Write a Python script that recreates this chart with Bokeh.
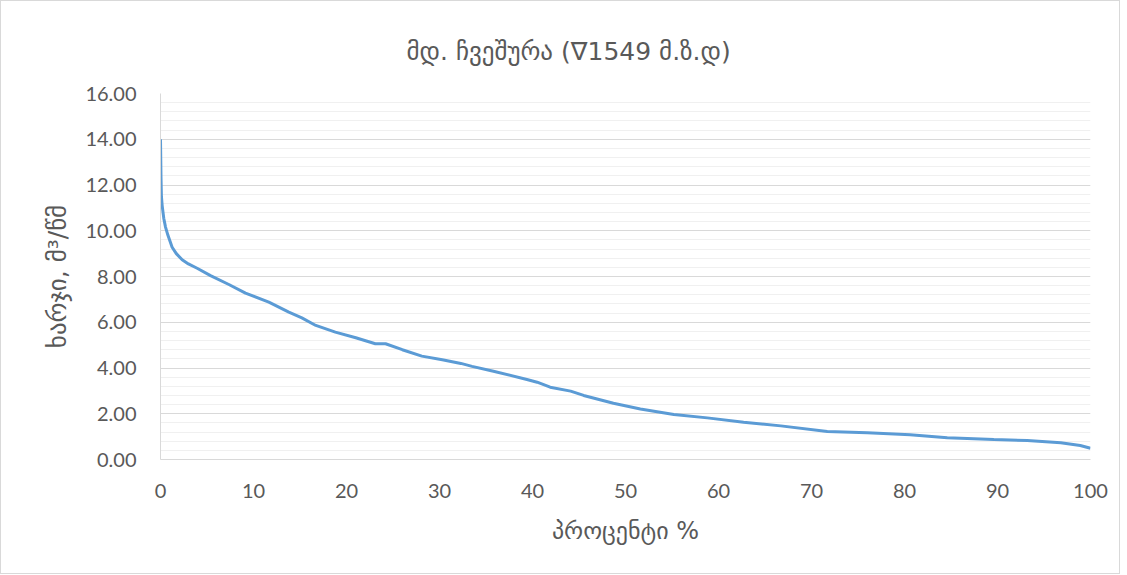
from bokeh.plotting import figure
from bokeh.models import SingleIntervalTicker, FixedTicker, NumeralTickFormatter, Range1d, Title
from bokeh.embed import file_html
from bokeh.resources import INLINE

percent = [0, 0.05, 0.1, 0.18, 0.35, 0.54, 0.8, 1.25, 1.7, 2.33, 3.0, 3.94, 5.38, 7.35, 9.14,
           11.65, 13.8, 15.2, 16.7, 18.8, 21.0, 23.1, 24.2, 26.0, 28.1, 30.3, 32.3, 33.5,
           35.8, 39.4, 40.5, 41.9, 44.1, 45.5, 48.7, 51.6, 55.2, 58.8, 62.7, 66.7, 71.7,
           76.0, 80.6, 84.6, 89.6, 93.2, 96.8, 98.9, 100]
discharge = [14.0, 12.4, 11.5, 11.1, 10.55, 10.16, 9.8, 9.28, 9.0, 8.73, 8.55, 8.36, 8.04, 7.65, 7.27,
             6.88, 6.44, 6.19, 5.86, 5.57, 5.32, 5.06, 5.06, 4.8, 4.52, 4.36, 4.2, 4.07,
             3.86, 3.5, 3.38, 3.16, 2.99, 2.8, 2.46, 2.21, 1.97, 1.82, 1.63, 1.47, 1.22,
             1.17, 1.08, 0.95, 0.87, 0.83, 0.73, 0.61, 0.49]

title_text = "მდ. ჩვეშურა (∇1549 მ.ზ.დ)"
x_label = "პროცენტი %"
y_label = "ხარჯი, მ³/წმ"
x_ticks = [0, 10, 20, 30, 40, 50, 60, 70, 80, 90, 100]

p = figure(width=1120, height=574, output_backend="svg", toolbar_location=None,
           x_range=Range1d(0, 100), y_range=Range1d(0, 16),
           min_border_left=159, min_border_right=31, min_border_top=92, min_border_bottom=116)
p.styles = {"border": "1px solid #d9d9d9"}
p.outline_line_color = None
p.background_fill_color = "white"

title = Title(text=title_text, align="left", offset=246, standoff=56,
              text_font="DejaVu Sans", text_font_size="25px", text_font_style="normal",
              text_color="#595959")
p.add_layout(title, "above")

p.line(percent, discharge, line_color="#5B9BD5", line_width=3)

p.xaxis.ticker = FixedTicker(ticks=x_ticks)
p.yaxis.ticker = SingleIntervalTicker(interval=2, num_minor_ticks=5)
p.yaxis.formatter = NumeralTickFormatter(format="0.00")
for ax in (p.xaxis[0], p.yaxis[0]):
    ax.axis_line_color = "#d9d9d9"
    ax.axis_line_width = 1
    ax.major_tick_line_color = None
    ax.minor_tick_line_color = None
    ax.major_label_text_font = "Lato"
    ax.major_label_text_font_size = "20px"
    ax.major_label_text_color = "#595959"
    ax.axis_label_text_font = "DejaVu Sans"
    ax.axis_label_text_font_style = "normal"
    ax.axis_label_text_color = "#595959"
p.xaxis.axis_label_text_font_size = "24px"
p.yaxis.axis_label_text_font_size = "25px"
p.xaxis.axis_label = x_label
p.yaxis.axis_label = y_label
p.xaxis.major_label_standoff = 18
p.yaxis.major_label_standoff = 18
p.xaxis.axis_label_standoff = 16
p.yaxis.axis_label_standoff = 10

p.xgrid.grid_line_color = None
p.ygrid.grid_line_color = "#d9d9d9"
p.ygrid.minor_grid_line_color = "#f0f0f0"
p.ygrid.ticker = p.yaxis.ticker

open("out.html", "w").write(file_html(p, INLINE))
